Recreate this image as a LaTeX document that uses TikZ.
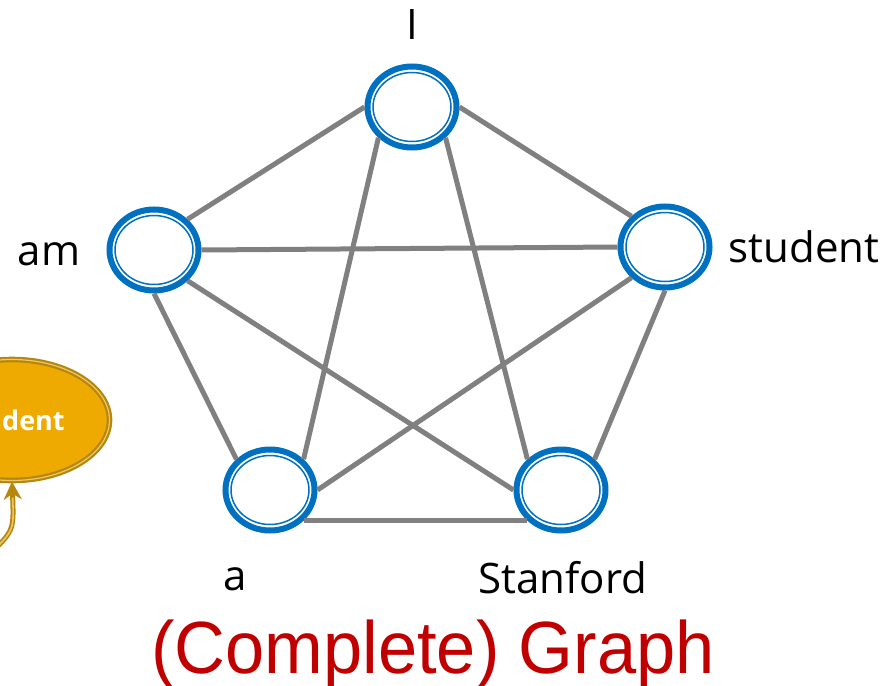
\documentclass[tikz,border=0pt]{standalone}
\usepackage{fontspec}
\setmainfont{Open Sans}
\newfontfamily\titlefont{Liberation Sans}
\usetikzlibrary{arrows.meta, shapes.geometric}
\definecolor{ringblue}{HTML}{0070C0}
\definecolor{edgegray}{HTML}{808080}
\definecolor{titlered}{HTML}{C00000}
\definecolor{goldfill}{HTML}{EEAA00}
\definecolor{golddark}{HTML}{B8860B}
\definecolor{goldlight}{HTML}{EAC76A}

\tikzset{
  word/.style={ellipse, draw=ringblue, line width=6pt, fill=white, inner sep=0pt,
    minimum width=89pt, minimum height=81pt,
    path picture={\draw[ringblue, line width=1.5pt] (path picture bounding box.center) ellipse (39pt and 34.5pt);}},
  link/.style={draw=edgegray, line width=5pt},
  lbl/.style={font=\fontsize{42}{50}\selectfont, anchor=base, inner sep=0pt},
  goldword/.style={ellipse, fill=goldfill, draw=golddark, double=goldlight, double distance=1.2pt,
    line width=2.2pt, minimum width=195pt, minimum height=121pt, text=white,
    font=\fontsize{27}{32}\selectfont\bfseries},
  goldarrow/.style={draw=golddark, line width=5pt, -{Stealth[length=18pt, width=18pt]}},
  goldcore/.style={draw=goldlight, line width=1.6pt, shorten >=16pt},
}

\begin{document}
\begin{tikzpicture}[x=1pt, y=-1pt]
  \useasboundingbox (0,0) rectangle (883,685);
  \clip (0,0) rectangle (883,685);

  % leftover word bubble at the left border
  \node[goldword] (stu) at (12,420) {student};
  \coordinate (arrowtail) at (-8,552);
  \draw[goldarrow] (arrowtail) .. controls (14,530) .. (stu.south);
  \draw[goldcore] (arrowtail) .. controls (14,530) .. (stu.south);

  % graph nodes
  \node[word] (wI) at (412,107) {};
  \node[word] (wam) at (154,250) {};
  \node[word] (wstudent) at (665,247) {};
  \node[word] (wa) at (270,490) {};
  \node[word] (wStanford) at (561,490) {};

  % all pairs
  \foreach \p/\q in {wI.west/wam.north east, wI.east/wstudent.north west,
      wI.south west/wa.north east, wI.south east/wStanford.north west,
      wam.east/wstudent.west, wam.south/wa.north west,
      wam.south east/wStanford.west, wstudent.south west/wa.east,
      wstudent.south/wStanford.north east, wa.south east/wStanford.south west}
    \draw[link] (\p) -- (\q);

  % labels
  \node[lbl] (lI) at (412,40) {I};
  \node[lbl] (lam) at (49,265) {am};
  \node[lbl] (lstudent) at (804,262) {student};
  \node[lbl] (la) at (235,590) {a};
  \node[lbl] (lStanford) at (563,593) {Stanford};

  \node[anchor=base, inner sep=0pt, text=titlered, font=\titlefont\fontsize{74}{80}\selectfont] (title) at (433,673) {\scalebox{0.952}[1]{(Complete) Graph}};
\end{tikzpicture}
\end{document}
